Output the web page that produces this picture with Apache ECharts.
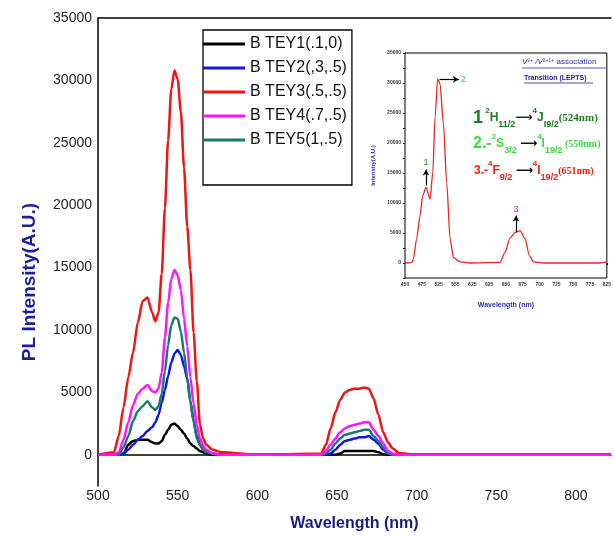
<!DOCTYPE html>
<html>
<head>
<meta charset="utf-8">
<script src="https://cdn.jsdelivr.net/npm/echarts@6/dist/echarts.min.js"></script>
<style>
  html, body { margin: 0; padding: 0; background: #fff; }
  #container { width: 614px; height: 537px; }
</style>
</head>
<body>
<div id="container"></div>
<script>
// 主图数据 (nm)
var wavelength = [500, 510, 513, 516, 519, 522, 525, 528, 531, 534, 536, 538, 540, 542, 544, 546, 548, 550, 552, 554, 556, 558, 560, 562, 564, 566, 568, 572, 578, 600,
    640, 643, 646, 649, 652, 655, 658, 661, 664, 667, 670, 673, 676, 679, 682, 685, 689, 700, 822];

var tey1 = [0, 0, 0, 100, 800, 1100, 1200, 1200, 1200, 1000, 900, 900, 1100, 1600, 2000, 2400, 2500, 2300, 2000, 1700, 1300, 900, 700, 500, 300, 200, 100, 0, 0, 0,
    0, 0, 0, 0, 100, 300, 300, 300, 300, 300, 300, 300, 200, 50, 0, 0, 0, 0, 0];
var tey2 = [0, 0, 0, 100, 400, 800, 1200, 1500, 1900, 2200, 2600, 3200, 4200, 5200, 6300, 7400, 8100, 8400, 8000, 7100, 6100, 4300, 2700, 1500, 800, 400, 200, 100, 0, 0,
    0, 0, 100, 400, 800, 1100, 1200, 1300, 1400, 1400, 1500, 1200, 900, 400, 100, 0, 0, 0, 0];
var tey3 = [0, 200, 1500, 3800, 6200, 8200, 10600, 12300, 12600, 11400, 10700, 11400, 14500, 19800, 25200, 29300, 30800, 30100, 27500, 23000, 18300, 14800, 9800, 5900, 2400, 1300, 800, 400, 200, 0,
    100, 800, 2100, 3400, 4400, 5000, 5200, 5300, 5300, 5400, 5300, 4500, 3200, 1800, 1000, 500, 150, 0, 0];
var tey4 = [0, 0, 200, 1200, 2600, 4000, 4900, 5300, 5600, 5100, 5000, 5300, 6600, 9400, 12200, 14100, 14800, 14400, 13200, 10900, 8700, 6200, 4100, 2400, 1300, 700, 400, 100, 0, 0,
    0, 300, 800, 1300, 1800, 2100, 2300, 2400, 2500, 2600, 2600, 2000, 1500, 900, 300, 100, 0, 0, 0];
var tey5 = [0, 0, 0, 600, 1500, 2700, 3500, 3900, 4300, 3800, 3600, 3900, 4900, 6700, 8800, 10400, 11000, 10900, 9900, 8200, 6200, 4200, 2700, 1300, 800, 400, 200, 100, 0, 0,
    0, 100, 400, 900, 1300, 1600, 1700, 1800, 1900, 2000, 2000, 1500, 1100, 600, 100, 0, 0, 0, 0];

var seriesNames = ['B TEY1(.1,0)', 'B TEY2(,3,.5)', 'B TEY3(.5,.5)', 'B TEY4(.7,.5)', 'B TEY5(1,.5)'];
var seriesColors = ['#000000', '#1414e6', '#f01414', '#ff14ff', '#1a7a72'];

// 小图 (inset) 数据: x 为刻度序号
var insetTicks = ['450', '475', '525', '555', '625', '625', '650', '675', '700', '725', '750', '775', '825'];
var insetX = [0, 0.4, 0.5, 0.69, 0.89, 1.05, 1.25, 1.49, 1.65, 1.79, 1.94, 2.08, 2.28, 2.48, 2.68, 2.88, 3.27, 3.87, 5.65, 5.95, 6.25, 6.55, 6.85, 7.14, 7.4, 7.64, 8.23, 11.5, 12];
var insetY = [0, 50, 660, 4000, 7800, 11200, 12600, 10600, 15000, 24400, 30700, 29900, 23300, 13400, 4000, 900, 200, 0, 100, 1800, 4200, 5100, 5400, 4000, 1200, 200, 0, 0, 200];

// 箭头标注
var arrow1 = [[1.25, 12900], [1.25, 15600]];
var arrow2 = [[2.05, 30600], [3.2, 30600]];
var arrow3 = [[6.6, 5100], [6.6, 7900]];

var dom = document.getElementById('container');
var myChart = echarts.init(dom);

var series = [];
var allData = [tey1, tey2, tey3, tey4, tey5];
for (var i = 0; i < allData.length; i++) {
    var d = [];
    for (var j = 0; j < wavelength.length; j++) {
        d.push([wavelength[j], allData[i][j]]);
    }
    series.push({
        name: seriesNames[i],
        type: 'line',
        xAxisIndex: 0,
        yAxisIndex: 0,
        data: d,
        showSymbol: false,
        smooth: 0.25,
        smoothMonotone: 'x',
        z: i == 3 ? 5 : 3,
        lineStyle: { color: seriesColors[i], width: 2.5 },
        itemStyle: { color: seriesColors[i] }
    });
}

var insetData = [];
for (var k = 0; k < insetX.length; k++) {
    insetData.push([insetX[k], insetY[k]]);
}

function arrowLine(pts, txt, col, pos) {
    return [{ coord: pts[0], label: { show: true, formatter: txt, color: col, fontSize: 9, position: pos, distance: 2 } }, { coord: pts[1] }];
}

series.push({
    name: 'inset',
    type: 'line',
    xAxisIndex: 2,
    yAxisIndex: 1,
    data: insetData,
    showSymbol: false,
    smooth: 0.25,
    smoothMonotone: 'x',
    z: 10,
    lineStyle: { color: '#ee2222', width: 1.3 },
    markLine: {
        silent: true,
        z: 12,
        symbol: ['none', 'arrow'],
        symbolSize: [5, 6],
        lineStyle: { color: '#000', width: 1.2, type: 'solid' },
        data: [
            arrowLine(arrow1, '1', '#1e8a1e', 'end'),
            arrowLine(arrow2, '2', '#33dd33', 'end'),
            arrowLine(arrow3, '3', '#e020e0', 'end')
        ]
    }
});

var mainLabel = { fontSize: 14, color: '#222', fontFamily: 'Liberation Sans' };
var insetLabel = { fontSize: 5, color: '#333', fontWeight: 'bold', fontFamily: 'Liberation Sans' };

option = {
    backgroundColor: '#fff',
    animation: false,
    grid: [
        { left: 98, right: 0, top: 18, bottom: 48 },
        { left: 405, top: 53, width: 202, height: 225, show: true, backgroundColor: '#fff', borderColor: '#000', borderWidth: 1, z: 8 }
    ],
    legend: {
        data: seriesNames,
        orient: 'vertical',
        left: 203,
        top: 30,
        padding: [6, 5, 37, 0],
        itemGap: 8,
        itemWidth: 42,
        itemHeight: 3,
        icon: 'rect',
        backgroundColor: '#fff',
        borderColor: '#000',
        borderWidth: 1.3,
        textStyle: { fontSize: 16, color: '#111', fontFamily: 'Liberation Sans' }
    },
    xAxis: [
        {
            type: 'value', gridIndex: 0, min: 500, max: 822, interval: 50,
            name: 'Wavelength (nm)', nameLocation: 'middle', nameGap: 30,
            nameTextStyle: { fontSize: 16, fontWeight: 'bold', color: '#1a1a82', fontFamily: 'Liberation Sans' },
            axisLine: { lineStyle: { color: '#000', width: 1.5 } },
            axisTick: { show: false },
            splitLine: { show: false },
            axisLabel: Object.assign({ margin: 3, formatter: function (v) { return v % 50 === 0 ? String(v) : ''; } }, mainLabel)
        },
        {
            type: 'value', gridIndex: 0, position: 'top', min: 500, max: 822,
            axisLine: { show: true, lineStyle: { color: '#000', width: 1.5 } },
            axisTick: { show: false }, axisLabel: { show: false }, splitLine: { show: false }
        },
        {
            type: 'value', gridIndex: 1, min: 0, max: 12, interval: 1,
            name: 'Wavelength (nm)', nameLocation: 'middle', nameGap: 24,
            nameTextStyle: { fontSize: 7, fontWeight: 'bold', color: '#2a2aa8', fontFamily: 'Liberation Sans' },
            axisLine: { lineStyle: { color: '#000', width: 1 } },
            axisTick: { show: true, length: 2, lineStyle: { color: '#000' } },
            splitLine: { show: false },
            axisLabel: Object.assign({ margin: 4, formatter: function (v) { return insetTicks[v] || ''; } }, insetLabel)
        }
    ],
    yAxis: [
        {
            type: 'value', gridIndex: 0, min: -2500, max: 35000, interval: 2500,
            axisLine: { show: true, lineStyle: { color: '#000', width: 1.5 } },
            axisTick: { show: false },
            splitLine: { show: false },
            axisLabel: Object.assign({ margin: 6, formatter: function (v) { return (v >= 0 && v % 5000 === 0) ? String(v) : ''; } }, mainLabel)
        },
        {
            type: 'value', gridIndex: 1, min: -2500, max: 35000, interval: 2500,
            name: 'Intensity(A.U.)', nameLocation: 'middle', nameGap: 29,
            nameTextStyle: { fontSize: 6, fontWeight: 'bold', color: '#2a2aa8', fontFamily: 'Liberation Sans' },
            axisLine: { show: true, lineStyle: { color: '#000', width: 1 } },
            axisTick: { show: true, length: 2, lineStyle: { color: '#000' } },
            splitLine: { show: false },
            axisLabel: Object.assign({ margin: 4, formatter: function (v) { return (v >= 0 && v % 5000 === 0) ? String(v) : ''; } }, insetLabel)
        }
    ],
    graphic: [
        {
            type: 'text', x: 30, y: 282, rotation: Math.PI / 2,
            style: { text: 'PL Intensity(A.U.)', fontSize: 19, fontWeight: 'bold', fill: '#1e1e9a', fontFamily: 'Liberation Sans', align: 'center', verticalAlign: 'middle' }
        },
        {
            type: 'text', x: 522, y: 62, z: 20,
            style: {
                text: '{i|V}{s|2+}{i| /V}{s|2+}{s|1+}{n| association}',
                fill: '#3030b0', verticalAlign: 'middle',
                rich: {
                    i: { fontSize: 8, fontStyle: 'italic', fill: '#3030b0', fontFamily: 'Liberation Sans' },
                    s: { fontSize: 5, fill: '#3030b0', verticalAlign: 'top', fontFamily: 'Liberation Sans' },
                    n: { fontSize: 8, fill: '#3030b0', fontFamily: 'Liberation Sans' }
                }
            }
        },
        { type: 'line', z: 20, shape: { x1: 522, y1: 68, x2: 606, y2: 68 }, style: { stroke: '#3030b0', lineWidth: 0.8 } },
        {
            type: 'text', x: 524, y: 78, z: 20,
            style: { text: 'Transition (LEPTS)', fontSize: 7, fontWeight: 'bold', fill: '#22229a', fontFamily: 'Liberation Sans', verticalAlign: 'middle' }
        },
        { type: 'line', z: 20, shape: { x1: 524, y1: 83, x2: 593, y2: 83 }, style: { stroke: '#22229a', lineWidth: 0.8 } },
        {
            type: 'text', x: 473, y: 118, z: 20,
            style: {
                text: '{b|1}{p| 2}{n|H}{d|11/2}{a|⟶}{p|4}{n|J}{d|I9/2}{t|(524nm)}',
                verticalAlign: 'middle',
                rich: {
                    b: { fontSize: 18, fontWeight: 'bold', fill: '#1e7b1e', fontFamily: 'Liberation Sans', lineHeight: 22 },
                    p: { fontSize: 8, fontWeight: 'bold', fill: '#1e7b1e', verticalAlign: 'top', fontFamily: 'Liberation Sans' },
                    n: { fontSize: 12, fontWeight: 'bold', fill: '#1e7b1e', fontFamily: 'Liberation Sans' },
                    d: { fontSize: 9, fontWeight: 'bold', fill: '#1e7b1e', verticalAlign: 'bottom', fontFamily: 'Liberation Sans' },
                    a: { fontSize: 12, fontWeight: 'bold', fill: '#113311', fontFamily: 'DejaVu Sans' },
                    t: { fontSize: 11, fontWeight: 'bold', fill: '#1e7b1e', fontFamily: 'Liberation Serif' }
                }
            }
        },
        {
            type: 'text', x: 473, y: 144, z: 20,
            style: {
                text: '{b|2.-}{p|2}{n|S}{d|3/2}{n| }{a|⟶}{p|4}{n|I}{d|19/2}{t| (550nm)}',
                verticalAlign: 'middle',
                rich: {
                    b: { fontSize: 16, fontWeight: 'bold', fill: '#3ddc3d', fontFamily: 'Liberation Sans', lineHeight: 22 },
                    p: { fontSize: 8, fontWeight: 'bold', fill: '#3ddc3d', verticalAlign: 'top', fontFamily: 'Liberation Sans' },
                    n: { fontSize: 12, fontWeight: 'bold', fill: '#3ddc3d', fontFamily: 'Liberation Sans' },
                    d: { fontSize: 9, fontWeight: 'bold', fill: '#3ddc3d', verticalAlign: 'bottom', fontFamily: 'Liberation Sans' },
                    a: { fontSize: 12, fontWeight: 'bold', fill: '#111', fontFamily: 'DejaVu Sans' },
                    t: { fontSize: 10, fontWeight: 'bold', fill: '#3ddc3d', fontFamily: 'Liberation Serif' }
                }
            }
        },
        {
            type: 'text', x: 474, y: 171, z: 20,
            style: {
                text: '{b|3.-}{p|4}{n|F}{d|9/2}{n| }{a|⟶}{p|4}{n|I}{d|19/2}{t|(651nm)}',
                verticalAlign: 'middle',
                rich: {
                    b: { fontSize: 12, fontWeight: 'bold', fill: '#ee1a1a', fontFamily: 'Liberation Sans', lineHeight: 22 },
                    p: { fontSize: 8, fontWeight: 'bold', fill: '#ee1a1a', verticalAlign: 'top', fontFamily: 'Liberation Sans' },
                    n: { fontSize: 12, fontWeight: 'bold', fill: '#ee1a1a', fontFamily: 'Liberation Sans' },
                    d: { fontSize: 9, fontWeight: 'bold', fill: '#ee1a1a', verticalAlign: 'bottom', fontFamily: 'Liberation Sans' },
                    a: { fontSize: 12, fontWeight: 'bold', fill: '#111', fontFamily: 'DejaVu Sans' },
                    t: { fontSize: 10, fontWeight: 'bold', fill: '#ee1a1a', fontFamily: 'Liberation Serif' }
                }
            }
        }
    ],
    series: series
};

if (option && typeof option === "object") {
    myChart.setOption(option, true);
}
</script>
</body>
</html>
